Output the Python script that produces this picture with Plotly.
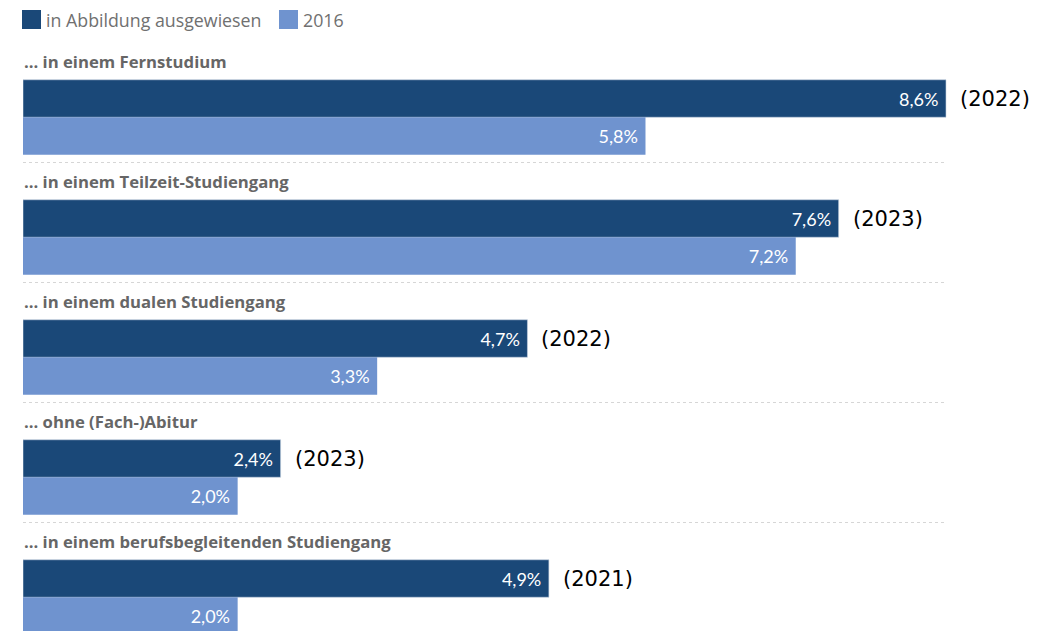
import plotly.graph_objects as go

categories = [
    "... in einem Fernstudium",
    "... in einem Teilzeit-Studiengang",
    "... in einem dualen Studiengang",
    "... ohne (Fach-)Abitur",
    "... in einem berufsbegleitenden Studiengang",
]
values_shown = [8.6, 7.6, 4.7, 2.4, 4.9]
values_2016 = [5.8, 7.2, 3.3, 2.0, 2.0]
years_shown = ["(2022)", "(2023)", "(2022)", "(2023)", "(2021)"]
legend_names = ["in Abbildung ausgewiesen", "2016"]

DARK = "#1a4878"
LIGHT = "#6f93cf"
GRAY = "#666666"

# page geometry (browser body adds an 8px offset)
OFF = 8
PAGE_W, PAGE_H = 1045, 631
W, H = PAGE_W - OFF, PAGE_H - OFF
BAR_LEFT = 23                      # page x where bars start
ML = BAR_LEFT - OFF
px_per_unit = (946 - 23) / 8.6
xmax = (W - ML) / px_per_unit

GROUP_START = 98.5                 # page y of first dark bar centre
GROUP_STEP = 120
BAR_H = 37.5

y_dark = [GROUP_START + GROUP_STEP * i for i in range(len(categories))]
y_light = [y + BAR_H for y in y_dark]

label_font = dict(color="white", size=18, family="Lato")

fig = go.Figure()
fig.add_trace(go.Bar(
    x=values_shown, y=y_dark, orientation="h", width=BAR_H,
    marker=dict(color=DARK, line=dict(color="#c8d3e0", width=0.6)),
    texttemplate="%{x:.1f}%\u00a0", textposition="inside", insidetextanchor="end",
    textfont=label_font, textangle=0,
    name=legend_names[0], showlegend=False, hoverinfo="skip",
))
fig.add_trace(go.Bar(
    x=values_2016, y=y_light, orientation="h", width=BAR_H,
    marker=dict(color=LIGHT, line=dict(width=0)),
    texttemplate="%{x:.1f}%\u00a0", textposition="inside", insidetextanchor="end",
    textfont=label_font, textangle=0,
    name=legend_names[1], showlegend=False, hoverinfo="skip",
))

annotations = []
shapes = []
xmax_bar = max(max(values_shown), max(values_2016))
for i, cat in enumerate(categories):
    annotations.append(dict(
        x=0, y=y_dark[i] - 37, xref="x", yref="y", text="<b>" + cat + "</b>",
        showarrow=False, xanchor="left", yanchor="middle", xshift=-1,
        font=dict(size=16.7, color=GRAY, family="Open Sans"),
    ))
    annotations.append(dict(
        x=values_shown[i], y=y_dark[i], xref="x", yref="y", text=years_shown[i],
        showarrow=False, xanchor="left", yanchor="middle", xshift=12,
        font=dict(size=21, color="#000000", family="DejaVu Sans"),
    ))
    if i < len(categories) - 1:
        sep_y = y_dark[i] + 64
        shapes.append(dict(
            type="line", xref="x", yref="y", x0=0, x1=xmax_bar, y0=sep_y, y1=sep_y,
            line=dict(color="#d6d6d6", width=1, dash="dot"),
        ))


def px_to_paper(px):
    return (px - BAR_LEFT) / (W - ML)


# legend drawn manually
leg_y0, leg_y1 = 10, 29
shapes.append(dict(type="rect", xref="paper", yref="y", x0=px_to_paper(22), x1=px_to_paper(41),
                   y0=leg_y0, y1=leg_y1, fillcolor=DARK, line=dict(width=0)))
shapes.append(dict(type="rect", xref="paper", yref="y", x0=px_to_paper(279), x1=px_to_paper(298),
                   y0=leg_y0, y1=leg_y1, fillcolor=LIGHT, line=dict(width=0)))
annotations.append(dict(x=px_to_paper(44), y=(leg_y0 + leg_y1) / 2, xref="paper", yref="y",
                        text=legend_names[0], showarrow=False, xanchor="left", yanchor="middle",
                        font=dict(size=17.8, color="#707070", family="Open Sans")))
annotations.append(dict(x=px_to_paper(301), y=(leg_y0 + leg_y1) / 2, xref="paper", yref="y",
                        text=legend_names[1], showarrow=False, xanchor="left", yanchor="middle",
                        font=dict(size=17.8, color="#707070", family="Open Sans")))

fig.update_layout(
    width=W, height=H,
    margin=dict(l=ML, r=0, t=0, b=0, autoexpand=False),
    paper_bgcolor="white", plot_bgcolor="white",
    barmode="overlay", separators=",.",
    uniformtext=dict(mode=False),
    xaxis=dict(range=[0, xmax], visible=False, fixedrange=True),
    yaxis=dict(range=[PAGE_H, OFF], visible=False, fixedrange=True),
    annotations=annotations, shapes=shapes,
    showlegend=False,
)
fig.write_html("out.html")
